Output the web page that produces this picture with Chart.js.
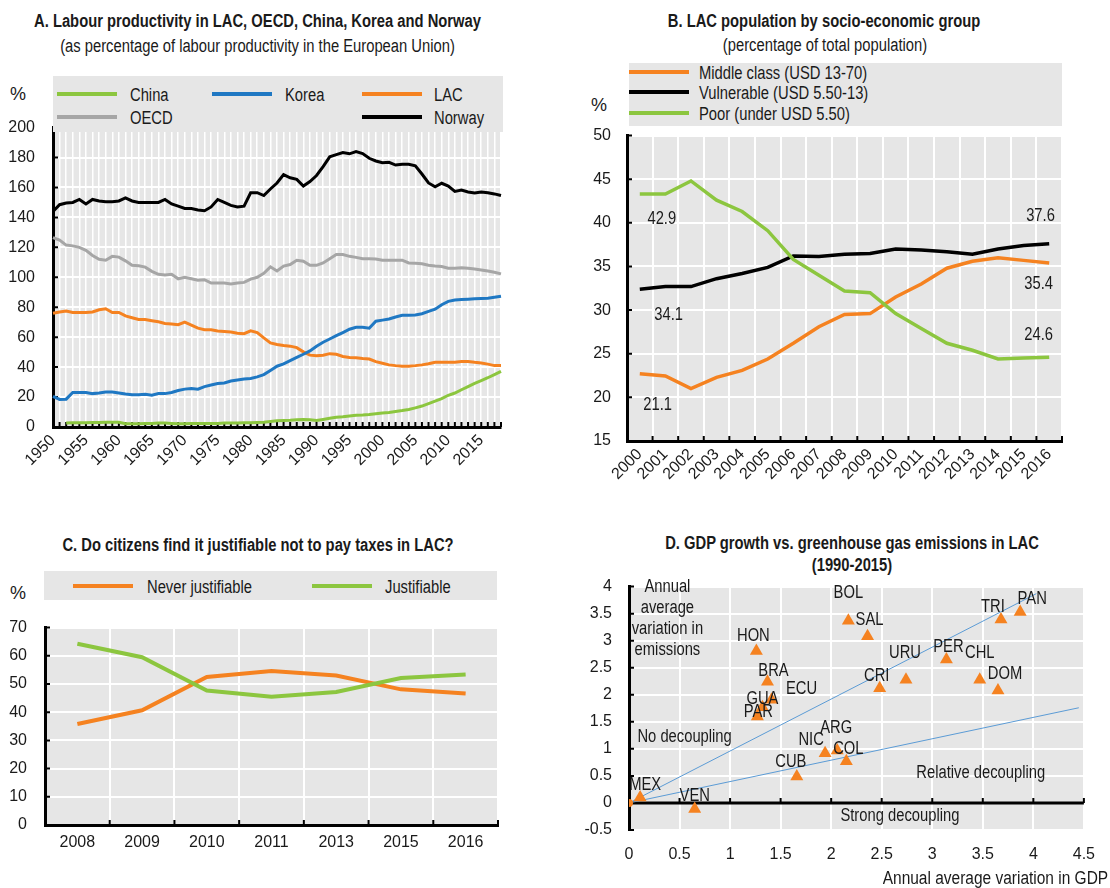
<!DOCTYPE html>
<html>
<head>
<meta charset="utf-8">
<script src="https://cdn.jsdelivr.net/npm/chart.js@4.4.1/dist/chart.umd.min.js"></script>
<style>
  body { margin: 0; width: 1110px; height: 888px; background: #fff; position: relative; overflow: hidden;
         font-family: "Liberation Sans", Arial, sans-serif; color: #1a1a1a; }
  .abs { position: absolute; }
  .estreito { transform: scaleX(0.82); white-space: nowrap; }
  .titulo { font-weight: bold; font-size: 18px; line-height: 22px; text-align: center; }
  .sub { font-size: 18px; line-height: 22px; text-align: center; }
  .legenda { background: #e6e6e6; z-index: 2; }
  .traco { position: absolute; height: 4px; width: 60px; transform: translateY(-50%); }
  .texto { position: absolute; font-size: 18px; line-height: 20px; white-space: nowrap;
           transform: translateY(-50%) scaleX(0.82); transform-origin: left center; }
  .pct { font-size: 18px; line-height: 20px; }
</style>
</head>
<body>

<div class="abs titulo estreito" style="left:-60px;top:10px;width:635px">A. Labour productivity in LAC, OECD, China, Korea and Norway</div>
<div class="abs sub estreito" style="left:-40px;top:35px;width:595px">(as percentage of labour productivity in the European Union)</div>
<div class="abs pct" style="left:10px;top:84px">%</div>
<div class="abs legenda" style="left:53px;top:76px;width:450px;height:56px">
  <div class="traco" style="left:4px;top:18px;background:#8cc63f"></div><div class="texto" style="left:77px;top:19px">China</div>
  <div class="traco" style="left:159px;top:18px;background:#1f78c3"></div><div class="texto" style="left:232px;top:19px">Korea</div>
  <div class="traco" style="left:309px;top:18px;background:#f58220"></div><div class="texto" style="left:381px;top:19px">LAC</div>
  <div class="traco" style="left:4px;top:41px;background:#a6a6a6"></div><div class="texto" style="left:77px;top:42px">OECD</div>
  <div class="traco" style="left:309px;top:41px;background:#000"></div><div class="texto" style="left:381px;top:42px">Norway</div>
</div>
<div class="abs" style="left:0;top:100px"><canvas id="graficoA" width="530" height="380"></canvas></div>

<div class="abs titulo estreito" style="left:560px;top:10px;width:528px">B. LAC population by socio-economic group</div>
<div class="abs sub estreito" style="left:560px;top:34px;width:530px">(percentage of total population)</div>
<div class="abs pct" style="left:591px;top:95px">%</div>
<div class="abs legenda" style="left:629px;top:63px;width:433px;height:63px">
  <div class="traco" style="left:0;top:9px;background:#f58220"></div><div class="texto" style="left:70px;top:10px">Middle class (USD 13-70)</div>
  <div class="traco" style="left:0;top:29px;background:#000"></div><div class="texto" style="left:70px;top:30px">Vulnerable (USD 5.50-13)</div>
  <div class="traco" style="left:0;top:50px;background:#8cc63f"></div><div class="texto" style="left:70px;top:51px">Poor (under USD 5.50)</div>
</div>
<div class="abs" style="left:560px;top:110px"><canvas id="graficoB" width="530" height="375"></canvas></div>

<div class="abs titulo estreito" style="left:-40px;top:534px;width:596px">C. Do citizens find it justifiable not to pay taxes in LAC?</div>
<div class="abs pct" style="left:10px;top:583px">%</div>
<div class="abs legenda" style="left:44px;top:571px;width:453px;height:29px">
  <div class="traco" style="left:29px;top:15px;background:#f58220"></div><div class="texto" style="left:103px;top:16px">Never justifiable</div>
  <div class="traco" style="left:268px;top:15px;background:#8cc63f"></div><div class="texto" style="left:341px;top:16px">Justifiable</div>
</div>
<div class="abs" style="left:0;top:600px"><canvas id="graficoC" width="530" height="270"></canvas></div>

<div class="abs titulo estreito" style="left:572px;top:532px;width:560px">D. GDP growth vs. greenhouse gas emissions in LAC<br>(1990-2015)</div>
<div class="abs" style="left:580px;top:560px"><canvas id="graficoD" width="530" height="320"></canvas></div>
<div class="abs" style="right:2px;top:867px;font-size:18px;line-height:22px;white-space:nowrap;transform:scaleX(0.86);transform-origin:right center">Annual average variation in GDP</div>

<script>
const FONTE = '"Liberation Sans", Arial, sans-serif';
const CINZA_FUNDO = "#e6e6e6";
const verde = "#8cc63f";
const laranja = "#f58220";
const azul = "#1f78c3";
const cinza = "#a6a6a6";
const preto = "#000000";

// A. produtividade (1950-2018)
const anosA = Array.from({ length: 69 }, (_, i) => 1950 + i);
const noruega = [144,148.5,149.6,150,152,149,152,151,150.5,150.5,
  151,153,151,150,150,150,150,152,149,147.5,
  146,146,145,144.5,147,152,150,148,147,147.5,
  156.5,156.5,154.6,159,163,168.6,166.5,165.4,161,164,
  168,174,180.5,182,183.4,182.5,184,182.7,179.5,177.7,
  176.6,176.8,175,175.5,175.5,174.5,169,163,160.4,162.8,
  160.9,157.4,158.3,157,156.3,157,156.5,155.7,154.6];
const ocde = [126.5,124.8,121.5,121,120,118,114.6,112,111.4,114,
  113.5,111,108,107.7,106.8,104,102,101.6,102,99,
  100,99,98,98.4,96.2,96.2,96.2,95.6,96.2,96.6,
  98.8,100,102.7,107,104.2,107.5,108.5,111.4,110.7,108,
  108,109.6,112.4,115.2,115.2,114,113.3,112.4,112.4,112.2,
  111.4,111.4,111.4,111.4,109.6,109.4,109,108,107.5,107.2,
  106,106,106.4,106,105.5,104.9,104.2,103.4,102.3];
const lac = [76,76.8,77.4,76.5,76.5,76.5,76.8,78.3,79,76.5,
  76.5,74.2,73,71.8,71.8,71,70.3,69.2,68.8,68.3,
  70,68.1,66,65,64.9,64.2,63.8,63.4,62.7,62.3,
  64.2,63.1,59.5,56.2,55.1,54.5,54,53,50.2,48,
  47.6,48,49,48.6,47.1,46.5,46.3,45.8,45.4,43.7,
  42.6,41.5,41,40.6,40.6,41,41.5,42.2,43.2,43.2,
  43.2,43.2,43.7,43.7,43.2,42.8,42,41,41];
const coreia = [20.5,18.4,18.6,23.1,23.1,23.1,22.3,22.7,23.4,23.4,
  22.7,22,21.6,21.6,21.8,21.2,22.3,22.3,23.1,24.4,
  25.3,25.7,25.3,27,28.1,29,29.4,30.7,31.4,32,
  32.4,33.5,35,37.8,40.6,42.2,44.3,46.5,48.6,50.8,
  54,56.6,58.8,61,63.1,65.3,66.6,66.6,66,70.7,
  71.4,72.2,73.5,74.6,74.6,74.8,75.7,77.2,78.7,81.7,
  83.9,84.8,85.2,85.4,85.6,85.8,86,86.7,87.4];
const china = [null,null,2.6,2.8,2.8,2.8,3,3,3.2,3.2,
  3.2,2.2,2.2,2.2,2.4,2.4,2.6,2.6,2.4,2.2,
  2.2,2.4,2.4,2.4,2.4,2.4,2.6,2.6,2.6,2.8,
  2.8,3,3.2,3.7,4.1,4.3,4.5,4.8,5,4.8,
  4.3,5,5.8,6.5,6.9,7.4,7.8,8,8.4,8.9,
  9.3,9.7,10.4,11,11.7,12.8,14,15.6,17.3,19,
  21.2,22.7,24.9,27,29.2,31,32.9,35,37.2];

// B. grupos socioeconomicos
const anosB = ["2000","2001","2002","2003","2004","2005","2006","2007","2008","2009","2010","2011","2012","2013","2014","2015","2016"];
const classeMedia = [22.7,22.45,21.0,22.3,23.1,24.4,26.2,28.1,29.5,29.6,31.5,33.0,34.8,35.6,36.0,35.7,35.4];
const vulneraveis = [32.4,32.7,32.7,33.6,34.2,34.9,36.2,36.15,36.4,36.5,37.0,36.9,36.7,36.4,37.0,37.4,37.6];
const pobres = [43.3,43.3,44.8,42.6,41.3,39.1,35.8,34.0,32.2,32.0,29.6,27.9,26.2,25.4,24.4,24.5,24.6];
const rotulosB = ["42.9", "34.1", "21.1", "37.6", "35.4", "24.6"];

// C. impostos
const anosC = ["2008","2009","2010","2011","2013","2015","2016"];
const nuncaJustificavel = [35.8,40.7,52.5,54.6,53.0,48.1,46.6];
const justificavel = [64.3,59.5,47.7,45.5,47.2,52.1,53.4];

// D. PIB x emissoes
const paises = ["MEX","VEN","CUB","NIC","ARG","COL","PAR","GUA","ECU","BRA","HON","BOL","SAL","CRI","URU","PER","CHL","DOM","TRI","PAN"];
const pibPaises = [0.11,0.65,1.66,1.94,2.06,2.15,1.27,1.32,1.41,1.37,1.26,2.17,2.36,2.48,2.74,3.14,3.47,3.65,3.68,3.87];
const emissoesPaises = [0.10,-0.11,0.49,0.92,0.97,0.77,1.60,1.77,1.91,2.24,2.81,3.37,3.08,2.12,2.28,2.65,2.28,2.08,3.39,3.53];
const linhaSemDesacoplamento = [[0, 0], [4.03, 3.87]];
const linhaRelativo = [[0, 0], [4.45, 1.76]];
const ticksD_x = [0, 0.5, 1, 1.5, 2, 2.5, 3, 3.5, 4, 4.5];

// deslocamento dos nomes dos paises (px)
const deslocPaises = [[5,-13],[0,-13],[-6,-14],[-14,-13],[-1,-22],[2,-12],[1,-4],[0,-8],[30,-11],[6,-11],
  [-3,-15],[0,-28],[2,-16],[-3,-12],[-1,-27],[2,-13],[0,-27],[7,-16],[-8,-13],[12,-13]];

Chart.defaults.font.family = FONTE;
Chart.defaults.font.size = 16;
Chart.defaults.color = "#1a1a1a";
Chart.defaults.animation = false;
Chart.defaults.devicePixelRatio = 1;
Chart.defaults.plugins.legend.display = false;
Chart.defaults.plugins.tooltip.enabled = false;

const fundo = {
  id: "fundo",
  beforeDraw(chart) {
    const { ctx, chartArea: a } = chart;
    ctx.save();
    ctx.fillStyle = CINZA_FUNDO;
    ctx.fillRect(a.left, a.top, a.right - a.left, a.bottom - a.top);
    ctx.restore();
  }
};

function posicoes(escala) {
  const lista = [];
  for (let i = 0; i < escala.ticks.length; i++) lista.push(escala.getPixelForTick(i));
  if (escala.options.grid.offset && lista.length > 1) {
    const meio = (lista[1] - lista[0]) / 2;
    return [...lista.map(p => p - meio), lista[lista.length - 1] + meio];
  }
  return lista;
}

// marcas curtas para dentro do grafico
const tracinhos = {
  id: "tracinhos",
  beforeDatasetsDraw(chart, args, opts) {
    const { ctx, chartArea: a, scales: { x, y } } = chart;
    const t = 5;
    ctx.save();
    ctx.strokeStyle = "#000";
    let base = a.bottom;
    if (opts.eixoXEm !== undefined) {
      base = y.getPixelForValue(opts.eixoXEm);
      ctx.lineWidth = 3;
      ctx.beginPath();
      ctx.moveTo(a.left, base);
      ctx.lineTo(a.right, base);
      ctx.stroke();
    }
    ctx.lineWidth = 2;
    ctx.beginPath();
    posicoes(x).forEach(px => { ctx.moveTo(px, base); ctx.lineTo(px, base - t); });
    posicoes(y).forEach(py => { ctx.moveTo(a.left, py); ctx.lineTo(a.left + t, py); });
    ctx.stroke();
    ctx.restore();
  }
};

// textos em coordenadas dos dados, fonte estreitada
const rotulos = {
  id: "rotulos",
  afterDatasetsDraw(chart, args, opts) {
    const { ctx, scales: { x, y } } = chart;
    ctx.save();
    ctx.font = "18px " + FONTE;
    ctx.fillStyle = "#1a1a1a";
    ctx.textAlign = "center";
    ctx.textBaseline = "middle";
    (opts.itens || []).forEach(it => {
      const px = x.getPixelForValue(it.x) + (it.dx || 0);
      const py = y.getPixelForValue(it.y) + (it.dy || 0);
      ctx.save();
      ctx.translate(px, py);
      ctx.scale(0.82, 1);
      ctx.fillText(it.texto, 0, 0);
      ctx.restore();
    });
    ctx.restore();
  }
};

function serie(dados, cor, largura) {
  return { data: dados, borderColor: cor, backgroundColor: cor, borderWidth: largura, pointRadius: 0, tension: 0, spanGaps: false };
}

const gradeBranca = (w) => ({ color: "#fff", lineWidth: w, drawTicks: false });
const bordaPreta = { color: "#000", width: 3 };
const semZeros = v => String(v);

// A
new Chart(document.getElementById("graficoA"), {
  type: "line",
  data: {
    labels: anosA,
    datasets: [
      serie(china, verde, 3),
      serie(coreia, azul, 3),
      serie(lac, laranja, 3),
      serie(ocde, cinza, 3),
      serie(noruega, preto, 3)
    ]
  },
  options: {
    responsive: false,
    layout: { padding: { top: 18, right: 29, left: 0, bottom: 0 } },
    scales: {
      x: {
        grid: gradeBranca(1.5),
        border: bordaPreta,
        ticks: { autoSkip: false, minRotation: 45, maxRotation: 45, padding: 4,
          callback: (v, i) => anosA[i] % 5 === 0 ? String(anosA[i]) : "" },
        afterFit: s => { s.height = 53; }
      },
      y: {
        min: 0, max: 200,
        ticks: { stepSize: 20, padding: 18 },
        grid: gradeBranca(2),
        border: bordaPreta,
        afterFit: s => { s.width = 53; }
      }
    },
    plugins: { tracinhos: {} }
  },
  plugins: [fundo, tracinhos]
});

// B
new Chart(document.getElementById("graficoB"), {
  type: "line",
  data: {
    labels: anosB,
    datasets: [
      serie(pobres, verde, 3.5),
      serie(vulneraveis, preto, 3.5),
      serie(classeMedia, laranja, 3.5)
    ]
  },
  options: {
    responsive: false,
    layout: { padding: { top: 22, right: 28, left: 0, bottom: 0 } },
    scales: {
      x: {
        offset: true,
        grid: { ...gradeBranca(2), offset: true },
        border: bordaPreta,
        ticks: { autoSkip: false, minRotation: 45, maxRotation: 45, padding: 4 },
        afterFit: s => { s.height = 44; }
      },
      y: {
        min: 15, max: 50,
        ticks: { stepSize: 5, padding: 16 },
        grid: gradeBranca(2),
        border: bordaPreta,
        afterFit: s => { s.width = 67; }
      }
    },
    plugins: {
      tracinhos: {},
      rotulos: { itens: [
        { texto: rotulosB[0], x: 0.86, y: 40.4 },
        { texto: rotulosB[1], x: 1.13, y: 29.4 },
        { texto: rotulosB[2], x: 0.7, y: 19.1 },
        { texto: rotulosB[3], x: 15.66, y: 40.8 },
        { texto: rotulosB[4], x: 15.59, y: 33.0 },
        { texto: rotulosB[5], x: 15.59, y: 27.2 }
      ] }
    }
  },
  plugins: [fundo, tracinhos, rotulos]
});

// C
new Chart(document.getElementById("graficoC"), {
  type: "line",
  data: {
    labels: anosC,
    datasets: [
      serie(justificavel, verde, 4),
      serie(nuncaJustificavel, laranja, 4)
    ]
  },
  options: {
    responsive: false,
    layout: { padding: { top: 13, right: 32, left: 0, bottom: 0 } },
    scales: {
      x: {
        offset: true,
        grid: { ...gradeBranca(2), offset: true },
        border: bordaPreta,
        ticks: { autoSkip: false, maxRotation: 0, padding: 8 },
        afterFit: s => { s.height = 45; }
      },
      y: {
        min: 0, max: 70,
        ticks: { stepSize: 10, padding: 18 },
        grid: gradeBranca(2),
        border: bordaPreta,
        afterFit: s => { s.width = 45; }
      }
    },
    plugins: { tracinhos: {} }
  },
  plugins: [fundo, tracinhos]
});

// D
const pontosPaises = paises.map((p, i) => ({ x: pibPaises[i], y: emissoesPaises[i] }));
const itensD = paises.map((p, i) => ({ texto: p, x: pibPaises[i], y: emissoesPaises[i], dx: deslocPaises[i][0], dy: deslocPaises[i][1] }));
itensD.push(
  { texto: "Annual", x: 0.38, y: 3.99 },
  { texto: "average", x: 0.38, y: 3.6 },
  { texto: "variation in", x: 0.38, y: 3.21 },
  { texto: "emissions", x: 0.38, y: 2.82 },
  { texto: "No decoupling", x: 0.55, y: 1.22 },
  { texto: "Relative decoupling", x: 3.48, y: 0.55 },
  { texto: "Strong decoupling", x: 2.68, y: -0.25 }
);

new Chart(document.getElementById("graficoD"), {
  type: "scatter",
  data: {
    datasets: [
      { data: pontosPaises, pointStyle: "triangle", pointRadius: 7.5, backgroundColor: laranja, borderColor: laranja, borderWidth: 0, order: 0 },
      { data: [{ x: 0, y: 0 }], pointStyle: "circle", pointRadius: 4, backgroundColor: laranja, borderColor: laranja, borderWidth: 0, order: 1 },
      { type: "line", data: linhaSemDesacoplamento.map(p => ({ x: p[0], y: p[1] })), borderColor: "#5b9bd5", borderWidth: 1, pointRadius: 0, order: 2 },
      { type: "line", data: linhaRelativo.map(p => ({ x: p[0], y: p[1] })), borderColor: "#5b9bd5", borderWidth: 1, pointRadius: 0, order: 3 }
    ]
  },
  options: {
    responsive: false,
    layout: { padding: { top: 15, right: 22, left: 0, bottom: 0 } },
    scales: {
      x: {
        type: "linear", min: 0, max: 4.5,
        afterBuildTicks: s => { s.ticks = ticksD_x.map(v => ({ value: v })); },
        ticks: { padding: 15, callback: semZeros },
        grid: gradeBranca(2),
        border: { display: false },
        afterFit: s => { s.height = 50; }
      },
      y: {
        min: -0.5, max: 4,
        ticks: { stepSize: 0.5, padding: 17, callback: semZeros },
        grid: gradeBranca(2),
        border: bordaPreta,
        afterFit: s => { s.width = 49; }
      }
    },
    plugins: { tracinhos: { eixoXEm: 0 }, rotulos: { itens: itensD } }
  },
  plugins: [fundo, tracinhos, rotulos]
});
</script>
</body>
</html>
